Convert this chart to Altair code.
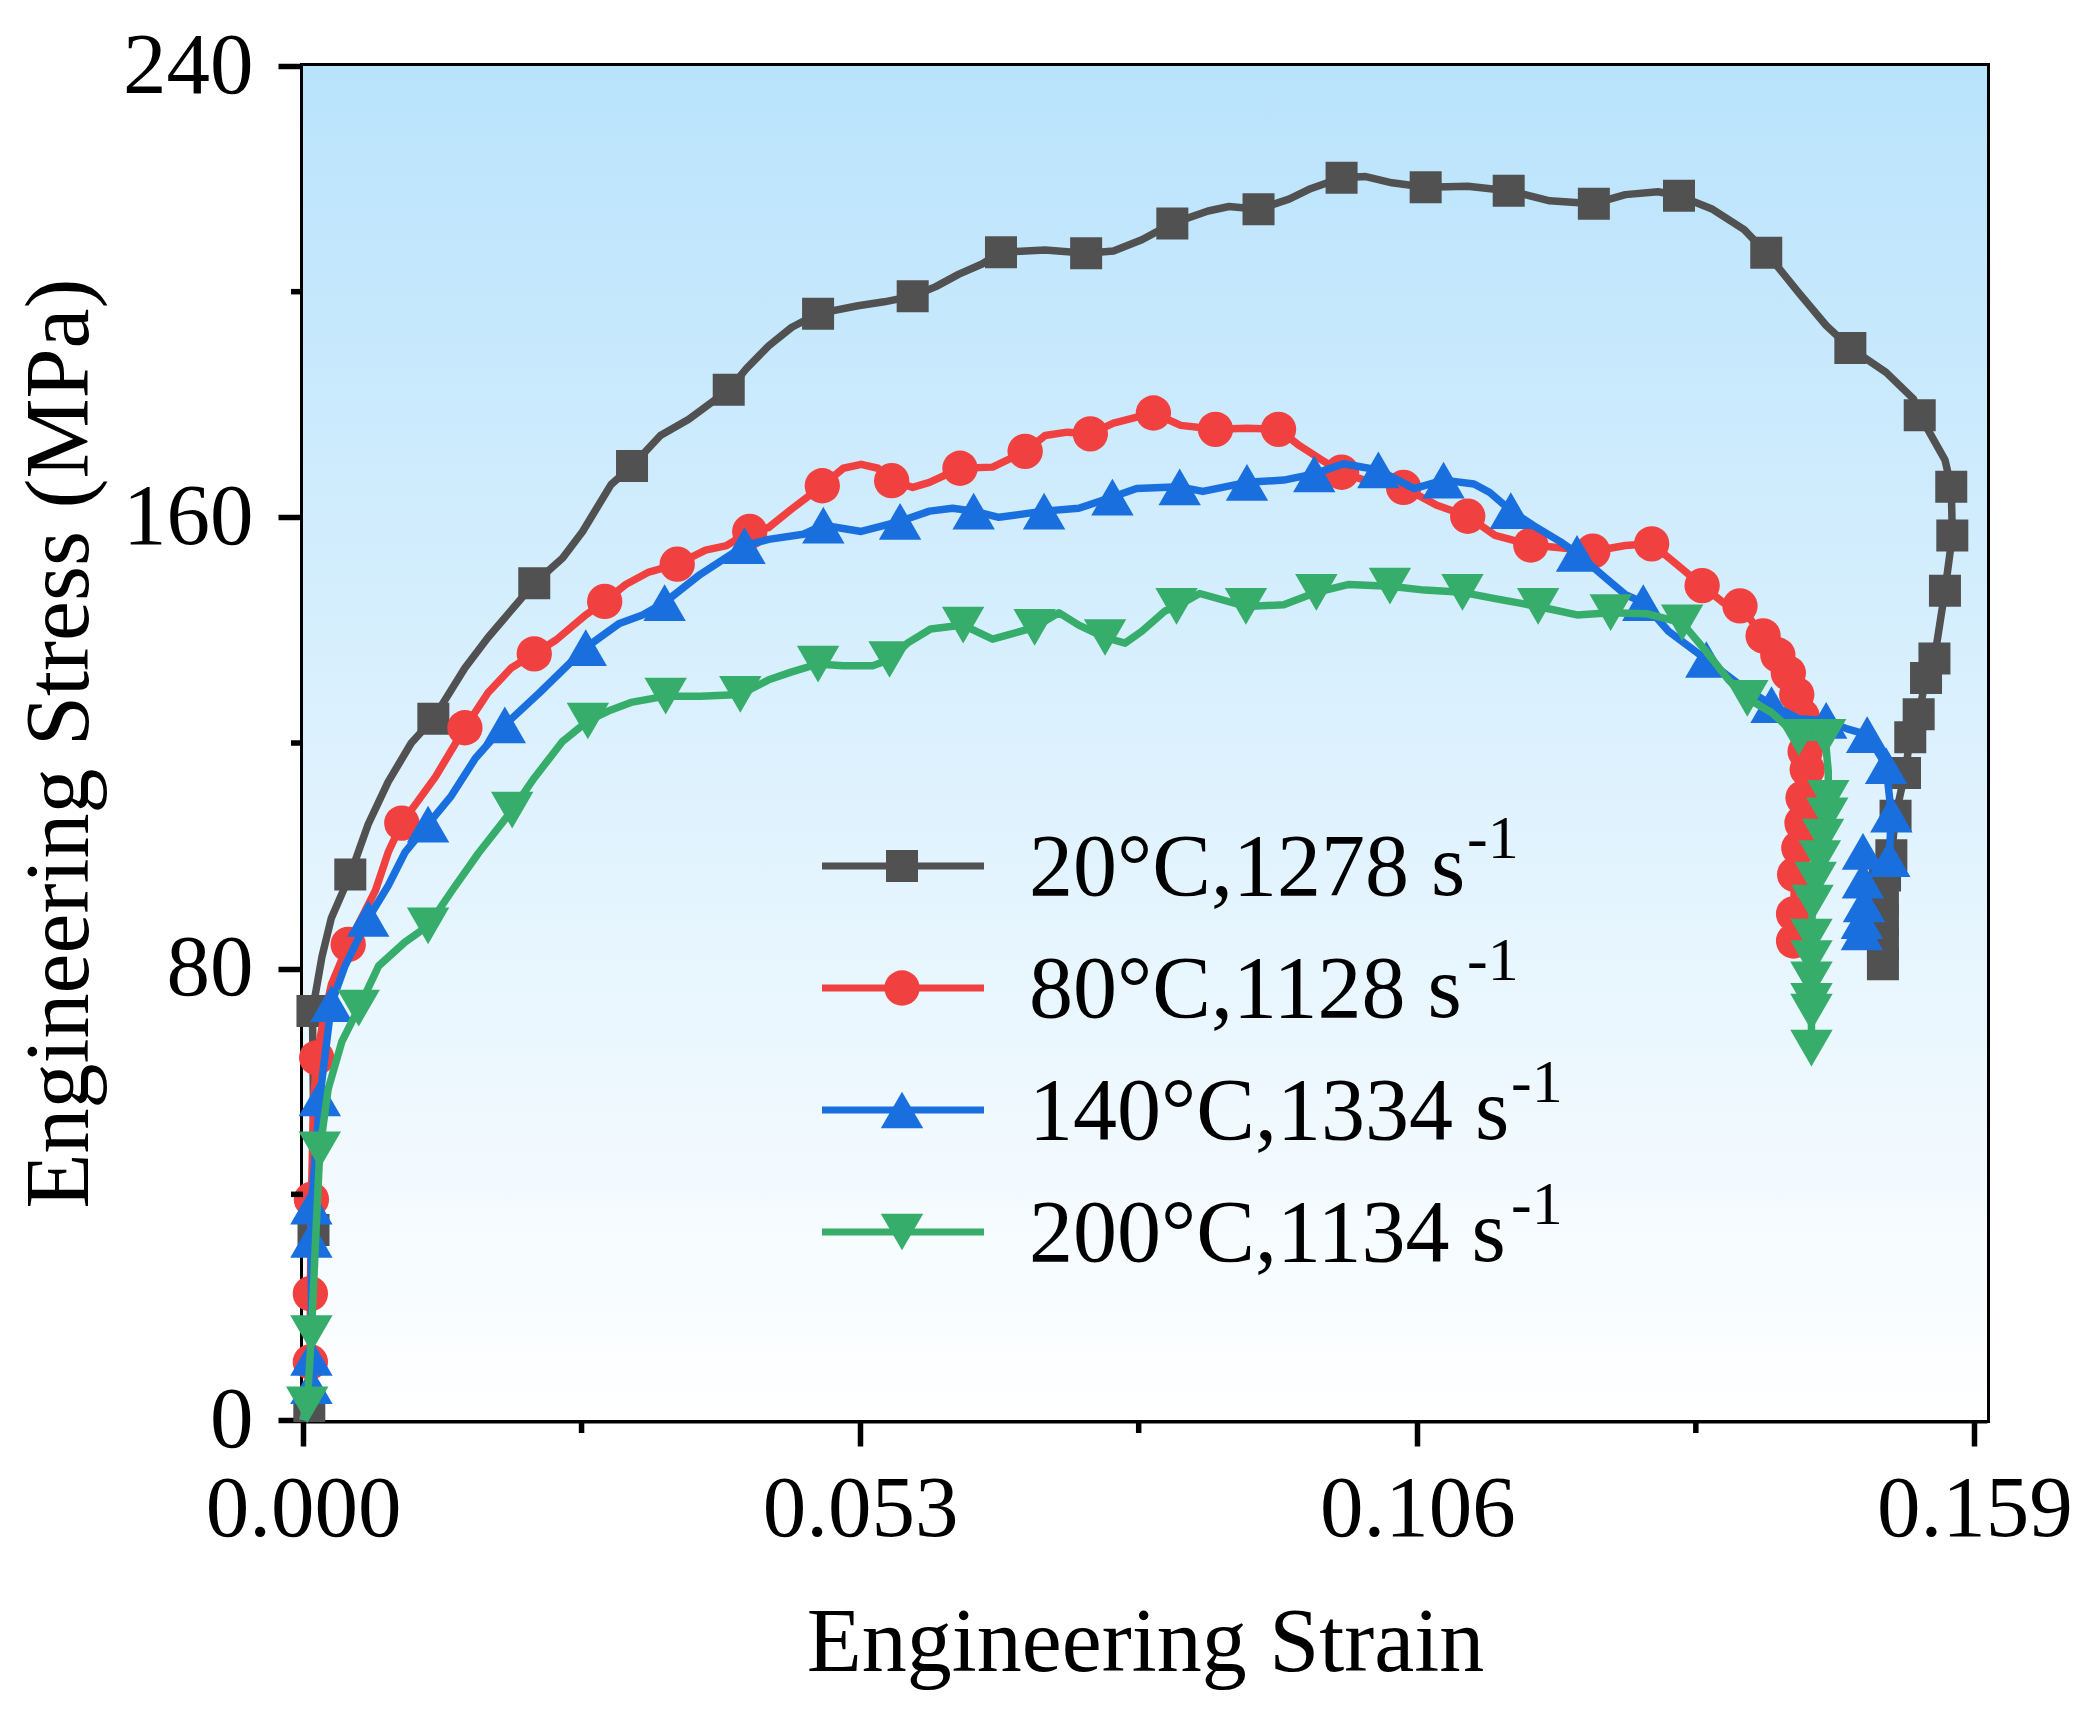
import altair as alt
import pandas as pd

FONT = "Liberation Serif"

# ---------------- series definitions ----------------
temps = ["20°C", "80°C", "140°C", "200°C"]
rates = ["1278", "1128", "1334", "1134"]
labels = [f"{t},{r} s" for t, r in zip(temps, rates)]
sup_text = "-1"
colors = ["#515151", "#F14040", "#1A6FDF", "#37AD6B"]
shapes = ["square", "circle", "triangle-up", "triangle-down"]
sizes = [1024, 1250, 1800, 1800]

# ---------------- 20 °C ----------------
s20_strain = [0.0000, 0.0006, 0.0010, 0.0010, 0.0009, 0.0018, 0.0027, 0.0045, 0.0062, 0.0081,
              0.0103, 0.0124, 0.0154, 0.0176, 0.0220, 0.0247, 0.0266, 0.0293, 0.0313, 0.0340,
              0.0367, 0.0405, 0.0422, 0.0443, 0.0465, 0.0490, 0.0528, 0.0553, 0.0580, 0.0602,
              0.0624, 0.0646, 0.0664, 0.0706, 0.0745, 0.0771, 0.0798, 0.0827, 0.0861, 0.0881,
              0.0909, 0.0938, 0.0959, 0.0988, 0.1011, 0.1036, 0.1068, 0.1108, 0.1147, 0.1186,
              0.1228, 0.1258, 0.1289, 0.1309, 0.1341, 0.1371, 0.1392, 0.1423, 0.1449, 0.1472,
              0.1506, 0.1532, 0.1538, 0.1562, 0.1568, 0.1569, 0.1562, 0.1552, 0.1544, 0.1537,
              0.1529, 0.1524, 0.1515, 0.1511, 0.1505, 0.1503, 0.1503, 0.1503, 0.1503]
s20_stress = [0.0, 2.5, 33.7, 55.0, 72.5, 82.1, 89.0, 96.7, 105.6, 113.1,
              120.0, 124.3, 133.3, 138.7, 148.3, 152.8, 157.5, 165.8, 169.1, 174.5,
              177.4, 182.6, 186.4, 190.4, 193.7, 196.1, 197.5, 198.2, 199.2, 200.9,
              203.1, 204.9, 207.0, 207.4, 206.8, 207.2, 209.2, 212.1, 214.3, 215.1,
              214.6, 216.4, 218.3, 220.2, 220.4, 219.3, 218.5, 218.7, 217.9, 216.1,
              215.6, 217.2, 217.7, 217.0, 214.6, 211.0, 206.9, 199.8, 194.0, 190.0,
              185.7, 181.0, 178.1, 170.2, 165.4, 156.8, 147.0, 135.0, 131.5, 125.1,
              121.0, 114.7, 107.1, 100.1, 96.5, 92.5, 88.5, 84.5, 80.8]
s20_mark = [0, 1, 1, 0, 1, 0, 0, 1, 0, 0,
            0, 1, 0, 0, 1, 0, 0, 0, 1, 0,
            0, 1, 0, 0, 0, 1, 0, 0, 1, 0,
            0, 0, 1, 0, 1, 0, 0, 1, 0, 0,
            1, 0, 0, 1, 0, 0, 1, 0, 1, 0,
            1, 0, 0, 1, 0, 0, 1, 0, 0, 1,
            0, 0, 1, 0, 1, 1, 1, 1, 1, 1,
            1, 1, 1, 1, 1, 1, 1, 1, 1]

# ---------------- 80 °C ----------------
s80_strain = [0.0000, 0.0004, 0.0007, 0.0007, 0.0008, 0.0010, 0.0013, 0.0019, 0.0027, 0.0043,
              0.0069, 0.0081, 0.0094, 0.0103, 0.0126, 0.0154, 0.0176, 0.0198, 0.0220, 0.0241,
              0.0269, 0.0287, 0.0307, 0.0329, 0.0356, 0.0383, 0.0403, 0.0425, 0.0443, 0.0465,
              0.0494, 0.0514, 0.0531, 0.0547, 0.0560, 0.0580, 0.0596, 0.0625, 0.0656, 0.0687,
              0.0706, 0.0727, 0.0749, 0.0771, 0.0809, 0.0835, 0.0868, 0.0898, 0.0928, 0.0948,
              0.0969, 0.0988, 0.1011, 0.1047, 0.1078, 0.1108, 0.1134, 0.1168, 0.1196, 0.1227,
              0.1258, 0.1283, 0.1304, 0.1331, 0.1351, 0.1367, 0.1389, 0.1403, 0.1413, 0.1421,
              0.1426, 0.1429, 0.1431, 0.1427, 0.1426, 0.1423, 0.1419, 0.1418, 0.1418]
s80_stress = [0.0, 5.0, 10.3, 22.4, 39.1, 56.3, 64.2, 70.5, 77.2, 84.3,
              93.9, 100.6, 105.8, 108.1, 114.0, 122.7, 128.9, 133.3, 135.8, 138.3,
              142.7, 145.1, 148.1, 150.3, 151.7, 154.2, 155.0, 157.5, 158.2, 161.5,
              165.6, 168.7, 169.4, 168.7, 166.5, 165.3, 166.2, 168.7, 168.9, 171.7,
              174.5, 175.1, 174.8, 176.7, 178.5, 176.3, 175.6, 175.8, 175.6, 172.7,
              170.2, 168.0, 166.5, 165.3, 162.2, 160.2, 156.8, 155.1, 154.6, 154.0,
              155.0, 155.3, 152.1, 147.9, 144.9, 144.3, 139.0, 135.6, 132.4, 128.6,
              124.8, 118.5, 115.3, 110.3, 105.8, 101.4, 96.7, 89.7, 84.9]
s80_mark = [0, 0, 1, 1, 1, 0, 1, 0, 0, 1,
            0, 0, 1, 0, 0, 1, 0, 0, 1, 0,
            0, 1, 0, 0, 1, 0, 0, 1, 0, 0,
            1, 0, 0, 0, 1, 0, 0, 1, 0, 1,
            0, 0, 1, 0, 1, 0, 1, 0, 1, 0,
            0, 1, 0, 1, 0, 1, 0, 1, 0, 1,
            0, 1, 0, 1, 0, 1, 1, 1, 1, 1,
            1, 1, 1, 1, 1, 1, 1, 1, 1]

# ---------------- 140 °C ----------------
s140_strain = [0.0000, 0.0008, 0.0008, 0.0008, 0.0008, 0.0016, 0.0027, 0.0040, 0.0062, 0.0081,
               0.0097, 0.0119, 0.0141, 0.0164, 0.0192, 0.0225, 0.0269, 0.0301, 0.0323, 0.0344,
               0.0378, 0.0420, 0.0443, 0.0476, 0.0495, 0.0531, 0.0568, 0.0596, 0.0618, 0.0638,
               0.0662, 0.0705, 0.0738, 0.0770, 0.0793, 0.0834, 0.0856, 0.0898, 0.0933, 0.0962,
               0.0990, 0.1023, 0.1057, 0.1085, 0.1114, 0.1129, 0.1149, 0.1170, 0.1196, 0.1212,
               0.1237, 0.1258, 0.1275, 0.1299, 0.1335, 0.1366, 0.1397, 0.1423, 0.1449, 0.1469,
               0.1488, 0.1506, 0.1511, 0.1509, 0.1498, 0.1484, 0.1484, 0.1485, 0.1483, 0.1483]
s140_stress = [0.0, 6.1, 11.1, 32.0, 37.9, 57.1, 73.8, 80.5, 88.9, 94.7,
               100.6, 105.6, 110.6, 117.3, 123.2, 128.9, 136.9, 141.2, 142.7, 144.9,
               149.9, 155.0, 156.1, 157.0, 158.6, 157.5, 159.3, 161.1, 161.6, 161.1,
               160.0, 161.1, 161.6, 163.6, 165.1, 165.4, 164.6, 166.2, 166.6, 167.7,
               169.5, 168.4, 165.1, 166.6, 165.9, 164.4, 161.2, 158.6, 155.7, 153.6,
               149.6, 146.3, 144.9, 139.8, 134.8, 130.4, 126.8, 124.3, 124.0, 122.5,
               121.5, 116.0, 107.4, 99.5, 97.5, 100.8, 95.7, 91.5, 88.5, 86.5]
s140_mark = [0, 1, 1, 1, 1, 1, 1, 0, 1, 0,
             0, 1, 0, 0, 1, 0, 1, 0, 0, 1,
             0, 1, 0, 0, 1, 0, 1, 0, 0, 1,
             0, 1, 0, 1, 0, 1, 0, 1, 0, 1,
             0, 1, 0, 1, 0, 0, 1, 0, 0, 1,
             0, 0, 1, 0, 1, 0, 1, 0, 1, 0,
             1, 1, 1, 1, 0, 1, 1, 1, 1, 1]

# ---------------- 200 °C ----------------
s200_strain = [0.0000, 0.0004, 0.0008, 0.0012, 0.0016, 0.0024, 0.0037, 0.0053, 0.0072, 0.0097,
               0.0119, 0.0142, 0.0167, 0.0199, 0.0220, 0.0247, 0.0271, 0.0291, 0.0312, 0.0345,
               0.0378, 0.0416, 0.0443, 0.0465, 0.0490, 0.0514, 0.0542, 0.0558, 0.0575, 0.0597,
               0.0628, 0.0656, 0.0696, 0.0719, 0.0738, 0.0763, 0.0782, 0.0798, 0.0820, 0.0831,
               0.0853, 0.0897, 0.0933, 0.0964, 0.0995, 0.1034, 0.1067, 0.1103, 0.1134, 0.1175,
               0.1212, 0.1244, 0.1279, 0.1312, 0.1335, 0.1356, 0.1374, 0.1397, 0.1423, 0.1448,
               0.1451, 0.1451, 0.1450, 0.1446, 0.1443, 0.1439, 0.1436, 0.1435, 0.1435, 0.1435,
               0.1435, 0.1435, 0.1435]
s200_stress = [0.0, 2.7, 15.3, 32.0, 47.9, 58.7, 67.1, 73.0, 80.5, 84.7,
               87.6, 93.9, 100.5, 108.1, 113.8, 120.3, 123.9, 125.7, 127.2, 128.3,
               128.3, 128.6, 131.2, 132.6, 134.0, 133.7, 133.7, 134.8, 137.7, 140.2,
               140.9, 138.4, 140.5, 143.1, 140.9, 138.7, 137.7, 139.8, 143.4, 144.2,
               146.5, 144.2, 144.5, 146.7, 148.1, 147.8, 147.1, 146.7, 145.6, 144.2,
               142.7, 143.1, 142.9, 141.3, 136.2, 131.2, 127.9, 125.4, 121.0, 121.0,
               115.0, 110.2, 107.1, 103.3, 99.5, 95.7, 91.6, 85.6, 81.8, 78.0,
               74.2, 72.3, 65.9]
s200_mark = [0, 1, 1, 0, 1, 0, 0, 1, 0, 0,
             1, 0, 0, 1, 0, 0, 1, 0, 0, 1,
             0, 1, 0, 0, 1, 0, 0, 1, 0, 0,
             1, 0, 1, 0, 0, 1, 0, 0, 0, 1,
             0, 1, 0, 1, 0, 1, 0, 1, 0, 1,
             0, 1, 0, 1, 0, 0, 1, 0, 1, 1,
             0, 1, 1, 1, 1, 1, 1, 1, 1, 1,
             1, 1, 1]

# ---------------- axis tick values ----------------
x_major = [0.0, 0.053, 0.106, 0.159]
x_minor = [0.0265, 0.0795, 0.1325]
y_major = [0, 80, 160, 240]
y_minor = [40, 120, 200]

# ---------------- assemble table ----------------
series_data = [
    (s20_strain, s20_stress, s20_mark),
    (s80_strain, s80_stress, s80_mark),
    (s140_strain, s140_stress, s140_mark),
    (s200_strain, s200_stress, s200_mark),
]
rows = []
for lab, (xs_, ys_, ms_) in zip(labels, series_data):
    for i, (a, b, m) in enumerate(zip(xs_, ys_, ms_)):
        rows.append({"series": lab, "idx": i, "strain": a, "stress": b, "marker": m})
df = pd.DataFrame(rows)

W, H = 1684, 1354

x_scale = alt.Scale(domain=[0, 0.1602], nice=False, zero=False)
y_scale = alt.Scale(domain=[0, 240], nice=False, zero=False)
color_scale = alt.Scale(domain=labels, range=colors)
shape_scale = alt.Scale(domain=labels, range=shapes)

x_axis = alt.Axis(
    values=x_major, format=".3f", title="Engineering Strain",
    titleFont=FONT, titleFontSize=90, titleFontWeight="normal", titleColor="black",
    titleX=W / 2, titleY=250, titleBaseline="alphabetic", titleAlign="center",
    labelFont=FONT, labelFontSize=87, labelColor="black", labelPadding=20,
    labelFlush=False, labelOverlap=False, labelLimit=500,
    tickSize=26, tickWidth=5.5, tickColor="black",
    domainColor="black", domainWidth=6, grid=False,
)
y_axis = alt.Axis(
    values=y_major, format="d", title="Engineering Stress (MPa)",
    titleFont=FONT, titleFontSize=90, titleFontWeight="normal", titleColor="black",
    titleX=-216, titleY=H / 2, titleAngle=270, titleBaseline="alphabetic", titleAlign="center",
    labelFont=FONT, labelFontSize=87, labelColor="black", labelPadding=25,
    labelFlush=False, labelOverlap=False, labelLimit=500, titleLimit=2000,
    tickSize=25, tickWidth=5.5, tickColor="black",
    domainColor="black", domainWidth=6, grid=False,
)

X = alt.X("strain:Q", scale=x_scale, axis=x_axis)
Y = alt.Y("stress:Q", scale=y_scale, axis=y_axis)
C = alt.Color("series:N", scale=color_scale, legend=None)
S = alt.Shape("series:N", scale=shape_scale, legend=None)

bg = alt.Chart(alt.Data(values=[{"bg": 1}])).mark_rect(
    color=alt.LinearGradient(
        gradient="linear",
        stops=[alt.GradientStop(color="#B9E3FC", offset=0),
               alt.GradientStop(color="#FFFFFF", offset=1)],
        x1=0, x2=0, y1=0, y2=1,
    )
).encode(x=alt.value(0), x2=alt.value("width"), y=alt.value(0), y2=alt.value("height"))

layers = [bg]
base = alt.Chart(df)
for lab, sz in zip(labels, sizes):
    sub = base.transform_filter(alt.datum.series == lab)
    line = sub.mark_line(strokeWidth=7.5, strokeJoin="round").encode(
        x=X, y=Y, order=alt.Order("idx:Q"), color=C)
    pts = sub.transform_filter(alt.datum.marker == 1).mark_point(
        filled=True, opacity=1, size=sz).encode(x=X, y=Y, color=C, shape=S)
    layers += [line, pts]

xminor = alt.Chart(pd.DataFrame({"v": x_minor})).mark_rule(color="black", strokeWidth=5.5).encode(
    x=alt.X("v:Q", scale=x_scale, axis=x_axis), y=alt.value("height"), y2=alt.value(H + 13))
yminor = alt.Chart(pd.DataFrame({"v": y_minor})).mark_rule(color="black", strokeWidth=5.5).encode(
    y=alt.Y("v:Q", scale=y_scale, axis=y_axis), x=alt.value(0), x2=alt.value(-12))
layers += [xminor, yminor]

main = alt.layer(*layers)

# ---------------- legend (line + marker + text with superscript) ----------------
leg_df = pd.DataFrame({"series": labels})
LY = alt.Y("series:N", scale=alt.Scale(type="point", domain=labels, range=[800, 1166], padding=0),
           axis=None)
leg_layers = [
    alt.Chart(leg_df).mark_rule(strokeWidth=7).encode(
        x=alt.value(519), x2=alt.value(681), y=LY, color=C)
]
for lab, sz in zip(labels, sizes):
    leg_layers.append(
        alt.Chart(leg_df).transform_filter(alt.datum.series == lab).mark_point(
            filled=True, opacity=1, size=sz).encode(x=alt.value(599), y=LY, color=C, shape=S)
    )
leg_layers.append(
    alt.Chart(leg_df).mark_text(
        align="left", baseline="alphabetic", dy=29, font=FONT, fontSize=88, color="black"
    ).encode(x=alt.value(726), y=LY, text="series:N")
)
leg_layers.append(
    alt.Chart(leg_df).transform_calculate(
        supx="1164 + 44 * (length(datum.series) - 11)", sup=f"'{sup_text}'"
    ).mark_text(
        align="left", baseline="alphabetic", dy=-8, font=FONT, fontSize=62, color="black"
    ).encode(x=alt.X("supx:Q", scale=None, axis=None), y=LY, text="sup:N")
)

legend = alt.layer(*leg_layers)

chart = alt.layer(main, legend).resolve_scale(y="independent", x="independent").properties(
    width=W, height=H,
    autosize=alt.AutoSizeParams(type="none"),
    padding={"left": 295, "top": 58, "right": 100, "bottom": 290},
    background="white",
).configure_view(stroke="black", strokeWidth=6)

chart.save("out.html", embed_options={"renderer": "svg", "actions": False})
